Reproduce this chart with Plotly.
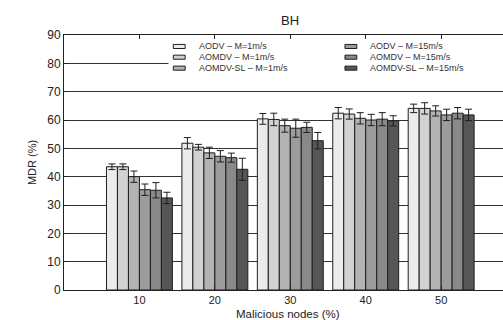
import plotly.graph_objects as go

# Malicious-node percentages (x categories)
malicious = [10, 20, 30, 40, 50]

# Series names, in bar order within each group
series_names = [
    "AODV – M=1m/s",
    "AOMDV – M=1m/s",
    "AOMDV-SL – M=1m/s",
    "AODV – M=15m/s",
    "AOMDV – M=15m/s",
    "AOMDV-SL – M=15m/s",
]

# MDR (%) per series
aodv_1 = [43.5, 51.8, 60.4, 62.4, 64.1]
aomdv_1 = [43.5, 50.4, 60.2, 62.1, 64.1]
aomdvsl_1 = [40.0, 48.4, 58.0, 60.6, 63.2]
aodv_15 = [35.4, 47.2, 57.1, 60.0, 61.8]
aomdv_15 = [35.2, 46.7, 57.4, 60.3, 62.4]
aomdvsl_15 = [32.5, 42.6, 52.7, 59.7, 61.8]

# Error-bar half widths per series
err_aodv_1 = [1.0, 2.0, 1.9, 2.0, 1.5]
err_aomdv_1 = [1.0, 1.0, 2.2, 1.8, 2.0]
err_aomdvsl_1 = [2.0, 2.0, 2.3, 2.0, 1.8]
err_aodv_15 = [2.0, 2.0, 3.2, 2.0, 2.0]
err_aomdv_15 = [2.7, 1.6, 1.8, 2.3, 2.0]
err_aomdvsl_15 = [2.0, 3.9, 2.9, 1.8, 2.0]

values = [aodv_1, aomdv_1, aomdvsl_1, aodv_15, aomdv_15, aomdvsl_15]
errors = [err_aodv_1, err_aomdv_1, err_aomdvsl_1, err_aodv_15, err_aomdv_15, err_aomdvsl_15]
colors = ["#ebebeb", "#d2d2d2", "#b3b3b3", "#9c9c9c", "#898989", "#565656"]

y_ticks = [0, 10, 20, 30, 40, 50, 60, 70, 80, 90]

fig = go.Figure()
for name, vals, errs, col in zip(series_names, values, errors, colors):
    fig.add_trace(go.Bar(
        x=list(range(1, len(malicious) + 1)),
        y=vals,
        name=name,
        marker=dict(color=col, line=dict(color="#1e1e1e", width=1)),
        error_y=dict(type="data", array=errs, visible=True,
                     color="#1e1e1e", thickness=1, width=3.5),
        showlegend=False,
    ))

TEXT = "#222222"
FONT = "Liberation Sans, Arial, sans-serif"
BOTTOM = 30
PLOT_H = 320 - 35 - BOTTOM

# Legend: white box behind two columns of swatches and labels
fig.add_shape(type="rect", xref="paper", yref="paper",
              x0=0.238, x1=1.0, y0=0.843, y1=0.982,
              fillcolor="white", line=dict(width=0), layer="above")

col_x = [0.249, 0.640]
row_y = [0.955, 0.913, 0.870]
sw_w = 0.027
sw_h = 0.016
for i, (name, col) in enumerate(zip(series_names, colors)):
    c = i // 3
    r = i % 3
    x0 = col_x[c]
    y0 = row_y[r]
    fig.add_shape(type="rect", xref="paper", yref="paper",
                  x0=x0, x1=x0 + sw_w, y0=y0 - sw_h / 2, y1=y0 + sw_h / 2,
                  fillcolor=col, line=dict(color="#1e1e1e", width=1), layer="above")
    fig.add_annotation(xref="paper", yref="paper", x=x0 + sw_w + 0.026, y=y0,
                       text=name, showarrow=False, xanchor="left", yanchor="middle",
                       font=dict(family=FONT, size=9, color="#333333"))

# X-axis title, set at the bottom edge below the tick labels
fig.add_annotation(xref="paper", yref="paper", x=0.51, y=-BOTTOM / PLOT_H,
                   text="Malicious nodes (%)", showarrow=False,
                   xanchor="center", yanchor="bottom", yshift=-2,
                   font=dict(family=FONT, size=11.5, color=TEXT))

fig.update_layout(
    width=503, height=320,
    margin=dict(l=64, r=0, t=35, b=BOTTOM),
    paper_bgcolor="white", plot_bgcolor="white",
    barmode="group", bargap=0.126, bargroupgap=0.0,
    title=dict(text="BH", x=0.515, xref="paper", y=0.9375, yref="container",
               xanchor="center", yanchor="middle",
               font=dict(family=FONT, size=13, color=TEXT)),
    font=dict(family=FONT, color=TEXT),
)

fig.update_xaxes(
    range=[0, 5.82],
    tickmode="array", tickvals=list(range(1, len(malicious) + 1)),
    ticktext=[str(m) for m in malicious],
    ticks="inside", ticklen=4, tickcolor="#222", tickwidth=1,
    showline=True, linecolor="#222", linewidth=1, mirror="ticks",
    showgrid=False, zeroline=False,
    tickfont=dict(family=FONT, size=11, color=TEXT),
    ticklabelstandoff=0,
)

fig.update_yaxes(
    range=[0, 90], tickmode="array", tickvals=y_ticks,
    ticks="inside", ticklen=4, tickcolor="#222",
    showline=True, linecolor="#222", linewidth=1, mirror=False,
    showgrid=True, gridcolor="#333333", gridwidth=1, zeroline=False,
    tickfont=dict(family=FONT, size=12, color=TEXT),
    title=dict(text="MDR (%)", standoff=8,
               font=dict(family=FONT, size=11, color=TEXT)),
)

fig.write_html("out.html")
